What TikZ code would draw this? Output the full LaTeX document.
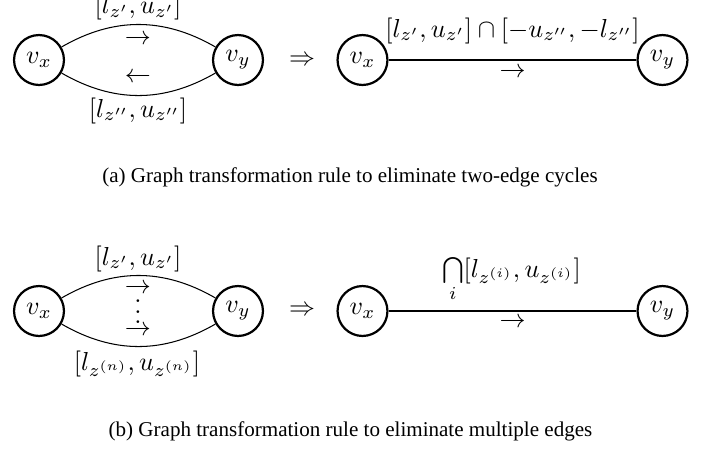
\documentclass[tikz,border=0pt]{standalone}
\usepackage{fontspec}
\newfontfamily\capfont{Liberation Serif}
\begin{document}
\begin{tikzpicture}[x=0.3846pt,y=-0.3846pt,
  vert/.style={circle,draw,line width=0.85pt,minimum size=19.2pt,inner sep=0pt},
  edge/.style={line width=0.4pt},
  lab/.style={inner sep=0pt,anchor=base},
  arr/.style={inner sep=0pt},
  captext/.style={inner sep=0pt,anchor=base,font=\capfont\fontsize{8.1}{10}\selectfont}]
\useasboundingbox (0,0) rectangle (711,448);
% ---- row a
\node[vert] (ax) at (39,60) {$v_x$};
\node[vert] (ay) at (238,60) {$v_y$};
\draw[edge] (ax) to[bend left=30] (ay);
\draw[edge] (ax) to[bend right=30] (ay);
\node[lab] (al1) at (138,13.5) {$[l_{z'},u_{z'}]$};
\node[arr] (aa1) at (138,40) {$\rightarrow$};
\node[arr] (aa2) at (138,78) {$\leftarrow$};
\node[lab] (al2) at (138,117) {$[l_{z''},u_{z''}]$};
\node[arr] (aimp) at (302,61) {$\Rightarrow$};
\node[vert] (bx) at (362.5,60) {$v_x$};
\node[vert] (by) at (662.5,60) {$v_y$};
\draw[edge] (bx) -- (by);
\node[lab] (bl) at (512.5,37) {$[l_{z'},u_{z'}]\cap[-u_{z''},-l_{z''}]$};
\node[arr] (ba) at (512.5,73) {$\rightarrow$};
\node[captext] (capa) at (350,182) {(a) Graph transformation rule to eliminate two-edge cycles};
% ---- row b
\node[vert] (cx) at (39,311) {$v_x$};
\node[vert] (cy) at (238,311) {$v_y$};
\draw[edge] (cx) to[bend left=30] (cy);
\draw[edge] (cx) to[bend right=30] (cy);
\node[lab] (cl1) at (138,265) {$[l_{z'},u_{z'}]$};
\node[arr] (ca1) at (138,289) {$\rightarrow$};
\node[lab] (cdots) at (138,323.5) {$\vdots$};
\node[arr] (ca2) at (138,330.5) {$\rightarrow$};
\node[lab] (cl2) at (137,370) {$[l_{z^{(n)}},u_{z^{(n)}}]$};
\node[arr] (cimp) at (302,311) {$\Rightarrow$};
\node[vert] (dx) at (362.5,311) {$v_x$};
\node[vert] (dy) at (662.5,311) {$v_y$};
\draw[edge] (dx) -- (dy);
\node[lab] (dl) at (511.5,277) {$\bigcap\limits_i[l_{z^{(i)}},u_{z^{(i)}}]$};
\node[arr] (da) at (512.5,323) {$\rightarrow$};
\node[captext] (capb) at (350.5,436) {(b) Graph transformation rule to eliminate multiple edges};
\end{tikzpicture}
\end{document}
